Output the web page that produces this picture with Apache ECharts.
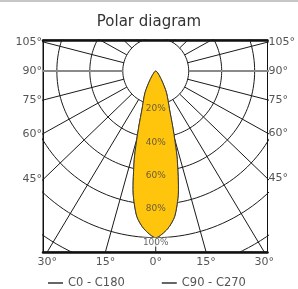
<!DOCTYPE html>
<html>
<head>
<meta charset="utf-8">
<script src="https://cdn.jsdelivr.net/npm/echarts@6/dist/echarts.min.js"></script>
<style>
  html, body { margin: 0; padding: 0; background: #fff; }
  #chart { width: 298px; height: 289px; }
</style>
</head>
<body>
<div id="chart"></div>
<script>
// photometric data, gamma angle (deg) -> relative intensity (%)
const gammaAngles = [0, 4.3, 7.5, 10.6, 13.8, 15.3, 17.2, 20, 26.6, 33.5, 40];
const c0Intensity = [100, 95, 88, 74.5, 54.7, 44.8, 34.6, 24.3, 14.5, 6, 0];
const c90Intensity = [100, 95, 88, 74.5, 54.7, 44.8, 34.6, 24.3, 14.5, 6, 0];

const ringValues = [20, 40, 60, 80, 100, 120];
const ringLabels = ['20%', '40%', '60%', '80%', '100%'];
const sideAngles = [105, 90, 75, 60, 45];
const bottomAngles = [-30, -15, 0, 15, 30];
const radialAngles = [];
for (let a = 0; a < 360; a += 15) radialAngles.push(a);

// frame extent in % units (center of diagram = 0,0)
const X_MIN = -68.4, X_MAX = 67.8, Y_MIN = -108.6, Y_MAX = 18.6;
const STRETCH = 1.05; // radial lines in the source are slightly spread sideways

const rad = d => d * Math.PI / 180;
const font = 'DejaVu Sans';

function radialDir(g) {
  let dx = STRETCH * Math.sin(rad(g)), dy = -Math.cos(rad(g));
  let n = Math.hypot(dx, dy);
  return [dx / n, dy / n];
}

// left / right tick label positions where the radial lines hit the frame
function sideValue(g, edge) {
  let d = radialDir(g);
  return d[1] * (Math.abs(edge) / Math.abs(d[0]));
}
function bottomValue(g) {
  let d = radialDir(g);
  return d[0] * (Math.abs(Y_MIN) / Math.abs(d[1]));
}
const leftVals = sideAngles.map(g => sideValue(g, X_MIN));
const rightVals = sideAngles.map(g => sideValue(g, X_MAX));
const bottomVals = bottomAngles.map(g => bottomValue(g));
const lookup = (vals, angles) => v => {
  let i = vals.findIndex(x => Math.abs(x - v) < 1e-6);
  return i < 0 ? '' : Math.abs(angles[i]) + '°';
};

function shapePoints(intensity) {
  let pts = [];
  for (let i = gammaAngles.length - 1; i > 0; i--) {
    let g = -gammaAngles[i], r = intensity[i];
    pts.push([r * Math.sin(rad(g)), -r * Math.cos(rad(g))]);
  }
  for (let i = 0; i < gammaAngles.length - 1; i++) {
    let g = gammaAngles[i], r = intensity[i];
    pts.push([r * Math.sin(rad(g)), -r * Math.cos(rad(g))]);
  }
  return pts;
}

let series = [];
ringValues.forEach(r => {
  let data = [];
  for (let a = 0; a <= 360; a += 2) data.push([r * Math.sin(rad(a)), -r * Math.cos(rad(a))]);
  series.push({
    type: 'line', data: data, showSymbol: false, silent: true, clip: true, z: 1,
    lineStyle: { color: '#1a1a1a', width: 1 }
  });
});
radialAngles.forEach(g => {
  let d = radialDir(g);
  let horiz = g === 90 || g === 270;
  series.push({
    type: 'line', data: [[20 * d[0], 20 * d[1]], [250 * d[0], 250 * d[1]]],
    showSymbol: false, silent: true, clip: true, z: horiz ? 2 : 1,
    lineStyle: { color: horiz ? '#8a8a8a' : '#1a1a1a', width: horiz ? 2 : 1 }
  });
});

function beamSeries(name, intensity) {
  let pts = shapePoints(intensity);
  return {
    name: name, type: 'custom', z: 5, clip: true,
    itemStyle: { color: '#333' },
    data: pts,
    renderItem: function (params, api) {
      if (params.dataIndex !== 0) return;
      return {
        type: 'polygon',
        shape: { points: pts.map(p => api.coord(p)), smooth: 0.25 },
        style: { fill: '#ffc40c', stroke: '#3a3a3a', lineWidth: 1 }
      };
    }
  };
}
series.push(beamSeries('C0 - C180', c0Intensity));
series.push(beamSeries('C90 - C270', c90Intensity));

series.push({
  type: 'scatter', symbolSize: 0, silent: true, z: 10,
  data: ringLabels.map((t, i) => ({
    value: [0, -ringValues[i]],
    label: t === '100%' ? { backgroundColor: '#fff', padding: [0, 1, 0, 1] } : {}
  })),
  label: {
    show: true, position: 'bottom', distance: 0,
    formatter: p => ringLabels[p.dataIndex],
    fontFamily: font, fontSize: 9, color: '#444'
  }
});

const axisText = { fontFamily: font, fontSize: 11, color: '#555' };
const option = {
  animation: false,
  title: {
    text: 'Polar diagram', left: 'center', top: 10,
    textStyle: { fontFamily: font, fontSize: 15, fontWeight: 'normal', color: '#333' }
  },
  graphic: [{ type: 'rect', shape: { x: 0, y: 0, width: 298, height: 2 }, style: { fill: '#c6c6c6' } }],
  legend: {
    left: 43, top: 272, itemGap: 37, itemWidth: 15, itemHeight: 1.5,
    textStyle: { fontFamily: font, fontSize: 11.5, color: '#555' },
    data: [
      { name: 'C0 - C180', icon: 'rect', itemStyle: { color: '#333' } },
      { name: 'C90 - C270', icon: 'rect', itemStyle: { color: '#333' } }
    ]
  },
  grid: { left: 43, right: 28, top: 40, bottom: 37, show: true, borderColor: '#111', borderWidth: 1 },
  xAxis: [{
    type: 'value', min: X_MIN, max: X_MAX, position: 'bottom',
    axisLine: { show: true, onZero: false, lineStyle: { color: '#111', width: 2.5 } },
    axisTick: { show: false }, splitLine: { show: false },
    axisLabel: Object.assign({ customValues: bottomVals, margin: 5, formatter: lookup(bottomVals, bottomAngles) }, axisText)
  }, {
    type: 'value', min: X_MIN, max: X_MAX, position: 'top',
    axisLine: { show: true, onZero: false, lineStyle: { color: '#111', width: 2.5 } },
    axisTick: { show: false }, splitLine: { show: false }, axisLabel: { show: false }
  }],
  yAxis: [{
    type: 'value', min: Y_MIN, max: Y_MAX, position: 'left',
    axisLine: { show: true, onZero: false, lineStyle: { color: '#111', width: 1 } },
    axisTick: { show: false }, splitLine: { show: false },
    axisLabel: Object.assign({ customValues: leftVals, margin: 1, formatter: lookup(leftVals, sideAngles) }, axisText)
  }, {
    type: 'value', min: Y_MIN, max: Y_MAX, position: 'right',
    axisLine: { show: true, onZero: false, lineStyle: { color: '#111', width: 1 } },
    axisTick: { show: false }, splitLine: { show: false },
    axisLabel: Object.assign({ customValues: rightVals, margin: 1, formatter: lookup(rightVals, sideAngles) }, axisText)
  }],
  series: series
};

const chart = echarts.init(document.getElementById('chart'));
chart.setOption(option);
</script>
</body>
</html>
